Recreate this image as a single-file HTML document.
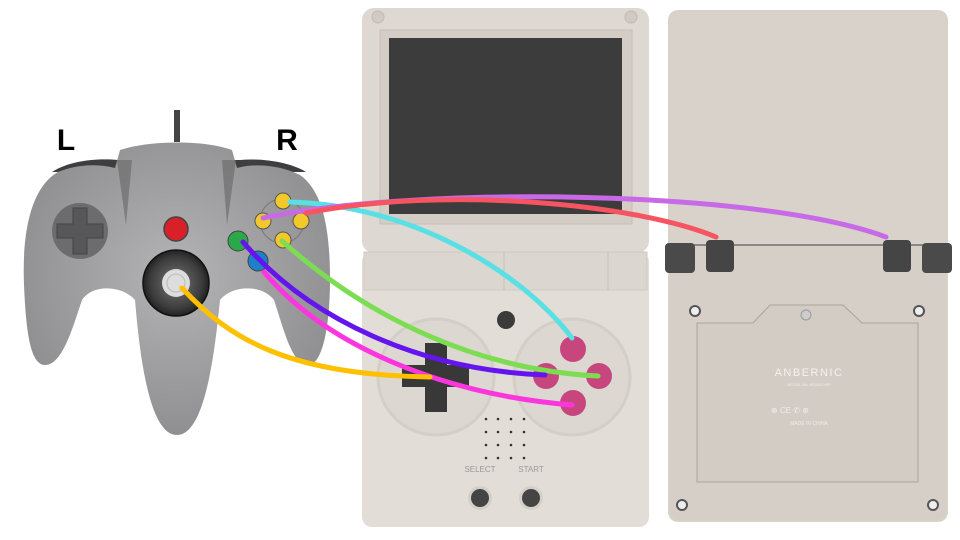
<!DOCTYPE html>
<html><head><meta charset="utf-8"><style>
html,body{margin:0;padding:0;background:#fff;width:960px;height:540px;overflow:hidden}
</style></head><body>
<svg width="960" height="540" viewBox="0 0 960 540" xmlns="http://www.w3.org/2000/svg" font-family="Liberation Sans, sans-serif">
<defs>
<radialGradient id="cg" cx="0.5" cy="0.45" r="0.6">
<stop offset="0" stop-color="#b4b4b6"/><stop offset="1" stop-color="#8c8c8e"/></radialGradient>
<radialGradient id="js" cx="0.5" cy="0.5" r="0.5">
<stop offset="0" stop-color="#777"/><stop offset="0.8" stop-color="#3a3a3a"/><stop offset="1" stop-color="#222"/></radialGradient>
</defs>
<!-- Controller -->
<rect x="174" y="110" width="6" height="32" fill="#444"/>
<text x="66" y="150" font-size="30" font-weight="bold" text-anchor="middle">L</text>
<text x="287" y="150" font-size="30" font-weight="bold" text-anchor="middle">R</text>
<path d="M52,172 C70,160 100,158 118,160 L240,160 C262,158 290,162 306,172 Z" fill="#3e3e40"/>
<path d="M58,172 C30,188 22,235 24,285 C26,330 30,365 45,365 C62,365 72,330 82,300 C92,284 122,285 135,300 C140,360 150,435 177,435 C204,435 214,360 220,300 C232,285 262,284 274,300 C284,330 292,365 308,365 C324,365 330,320 330,280 C330,232 324,192 300,175 C280,165 255,163 237,168 L232,150 C205,140 150,140 120,150 L115,168 C95,163 75,165 58,172 Z" fill="url(#cg)"/>
<path d="M117,160 L126,225 L132,160 Z" fill="#666" opacity="0.6"/>
<path d="M236,160 L227,225 L222,160 Z" fill="#666" opacity="0.6"/>
<circle cx="80" cy="231" r="28" fill="#6c6c6e"/>
<path d="M73,208 h14 v16 h16 v14 h-16 v16 h-14 v-16 h-16 v-14 h16 z" fill="#575759" stroke="#444" stroke-width="1"/>
<circle cx="176" cy="229" r="12" fill="#d82028" stroke="#444" stroke-width="1.5"/>
<circle cx="176" cy="283" r="33" fill="url(#js)" stroke="#111" stroke-width="1.5"/>
<circle cx="176" cy="283" r="14" fill="#ddd"/>
<circle cx="176" cy="283" r="9" fill="none" stroke="#bbb"/>
<circle cx="282" cy="221" r="22" fill="none" stroke="#777" stroke-width="1"/>
<circle cx="283" cy="201" r="8" fill="#f2c82a" stroke="#555"/>
<circle cx="263" cy="221" r="8" fill="#f2c82a" stroke="#555"/>
<circle cx="301" cy="221" r="8" fill="#f2c82a" stroke="#555"/>
<circle cx="283" cy="240" r="8" fill="#f2c82a" stroke="#555"/>
<circle cx="238" cy="241" r="10" fill="#2ca84a" stroke="#444"/>
<circle cx="258" cy="261" r="10" fill="#1e80c8" stroke="#444"/>

<!-- Front console -->
<rect x="362" y="8" width="287" height="245" rx="12" fill="#ddd8d1"/>
<rect x="380" y="30" width="252" height="194" fill="#d3cdc5" stroke="#c4beb6"/>
<rect x="389" y="38" width="233" height="176" fill="#3c3c3c"/>
<circle cx="378" cy="17" r="6" fill="#d0cac2" stroke="#c0bab2"/>
<circle cx="631" cy="17" r="6" fill="#d0cac2" stroke="#c0bab2"/>
<rect x="362" y="252" width="287" height="275" rx="10" fill="#e2ddd6"/>
<rect x="364" y="252" width="283" height="38" fill="#dbd6cf" stroke="#cfc9c1"/>
<line x1="504" y1="252" x2="504" y2="290" stroke="#c9c3bb"/>
<line x1="608" y1="252" x2="608" y2="290" stroke="#c9c3bb"/>
<circle cx="436" cy="377" r="58" fill="#dcd7d0" stroke="#d3cec6" stroke-width="3"/>
<circle cx="572" cy="377" r="58" fill="#dcd7d0" stroke="#d3cec6" stroke-width="3"/>
<path d="M425,343 h22 v22 h22 v22 h-22 v25 h-22 v-25 h-23 v-22 h23 z" fill="#383838" rx="3"/>
<circle cx="506" cy="320" r="9" fill="#3b3b3b"/>
<circle cx="573" cy="349" r="13" fill="#c8467e"/>
<circle cx="546" cy="376" r="13" fill="#c8467e"/>
<circle cx="599" cy="376" r="13" fill="#c8467e"/>
<circle cx="573" cy="403" r="13" fill="#c8467e"/>
<g fill="#333">
<circle cx="486" cy="419" r="1.3"/><circle cx="498" cy="419" r="1.3"/><circle cx="511" cy="419" r="1.3"/><circle cx="524" cy="419" r="1.3"/>
<circle cx="486" cy="432" r="1.3"/><circle cx="498" cy="432" r="1.3"/><circle cx="511" cy="432" r="1.3"/><circle cx="524" cy="432" r="1.3"/>
<circle cx="486" cy="445" r="1.3"/><circle cx="498" cy="445" r="1.3"/><circle cx="511" cy="445" r="1.3"/><circle cx="524" cy="445" r="1.3"/>
<circle cx="486" cy="458" r="1.3"/><circle cx="498" cy="458" r="1.3"/><circle cx="511" cy="458" r="1.3"/><circle cx="524" cy="458" r="1.3"/>
</g>
<text x="480" y="472" font-size="8" fill="#999" text-anchor="middle">SELECT</text>
<text x="531" y="472" font-size="8" fill="#999" text-anchor="middle">START</text>
<circle cx="480" cy="498" r="12" fill="#d4cfc8"/><circle cx="480" cy="498" r="9" fill="#444"/>
<circle cx="531" cy="498" r="12" fill="#d4cfc8"/><circle cx="531" cy="498" r="9" fill="#444"/>

<!-- Back console -->
<rect x="668" y="10" width="280" height="512" rx="10" fill="#d8d2ca"/>
<rect x="670" y="245" width="276" height="275" rx="8" fill="#d5cfc7"/>
<line x1="690" y1="245" x2="930" y2="245" stroke="#888" stroke-width="2"/>
<rect x="665" y="243" width="30" height="30" rx="4" fill="#4a4a4a"/>
<rect x="706" y="240" width="28" height="32" rx="4" fill="#454545"/>
<rect x="883" y="240" width="28" height="32" rx="4" fill="#454545"/>
<rect x="922" y="243" width="30" height="30" rx="4" fill="#4a4a4a"/>
<path d="M697,323 L753,323 L770,305 L843,305 L862,323 L918,323 L918,482 L697,482 Z" fill="#d2ccc4" stroke="#aaa49c"/>
<circle cx="806" cy="315" r="5" fill="#ccc" stroke="#999"/>
<circle cx="695" cy="311" r="5" fill="#eee" stroke="#555" stroke-width="2"/>
<circle cx="919" cy="311" r="5" fill="#eee" stroke="#555" stroke-width="2"/>
<circle cx="682" cy="505" r="5" fill="#eee" stroke="#555" stroke-width="2"/>
<circle cx="933" cy="505" r="5" fill="#eee" stroke="#555" stroke-width="2"/>
<text x="809" y="376" font-size="11" fill="#f4f2ee" text-anchor="middle" letter-spacing="1.5">ANBERNIC</text>
<text x="809" y="386" font-size="4" fill="#eee" text-anchor="middle">MODEL No.:RG35XXSP</text>
<text x="809" y="425" font-size="5" fill="#eee" text-anchor="middle">MADE IN CHINA</text>
<text x="790" y="413" font-size="8" fill="#eee" text-anchor="middle">⊗ CE ✆ ⊛</text>

<!-- Wires -->
<g fill="none" stroke-width="5" stroke-linecap="round">
<path d="M290,202 C410,205 520,270 572,338" stroke="#58e0e4"/>
<path d="M263,218 C420,185 760,190 886,237" stroke="#c86ae6"/>
<path d="M306,213 C450,185 640,205 716,237" stroke="#f65460"/>
<path d="M282,241 C370,320 480,370 598,376" stroke="#7cdc52"/>
<path d="M243,242 C310,320 420,370 545,375" stroke="#6414ec"/>
<path d="M264,272 C330,350 450,395 572,405" stroke="#fc36de"/>
<path d="M182,288 C230,340 290,375 430,377" stroke="#ffc000"/>
</g>
</svg>
</body></html>
